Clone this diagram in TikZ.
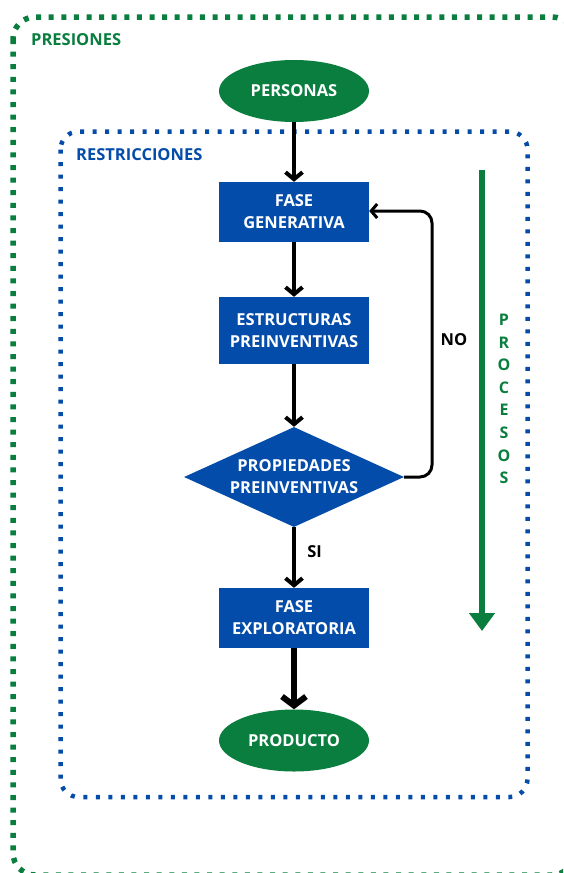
\documentclass[tikz,border=0pt]{standalone}
\usepackage{fontspec}
\setmainfont{Open Sans}
\usetikzlibrary{shapes.geometric,arrows.meta}
\definecolor{pgreen}{RGB}{9,126,63}
\definecolor{pblue}{RGB}{4,76,170}
\tikzset{
  txt/.style={font=\fontsize{16.5}{22}\selectfont\bfseries},
  boxnode/.style={txt,draw=none,fill=pblue,text=white,minimum width=150pt,align=center,inner sep=0pt},
  ovalnode/.style={txt,ellipse,fill=pgreen,text=white,minimum width=150pt,minimum height=62pt,inner sep=0pt},
  decnode/.style={txt,diamond,fill=pblue,text=white,aspect=2.2,minimum width=220pt,minimum height=100pt,inner sep=0pt,align=center},
  flow/.style={line width=4pt,-{Straight Barb[length=7pt,width=17pt]}},
  bigflow/.style={line width=6pt,-{Straight Barb[length=9pt,width=24pt]}},
  backflow/.style={line width=3pt,rounded corners=12pt,-{Straight Barb[length=6pt,width=14pt]}},
  outerframe/.style={draw=pgreen,line width=5.5pt,dash pattern=on 5pt off 7.6pt,rounded corners=22pt},
  innerframe/.style={draw=pblue,line width=4.5pt,dash pattern=on 4pt off 8.5pt,rounded corners=18pt},
}
\begin{document}
\begin{tikzpicture}[x=1pt,y=-1pt]
\useasboundingbox (0,0) rectangle (563,873);
\clip (0,0) rectangle (563,873);
\fill[white] (0,0) rectangle (563,873);
% frames
\draw[outerframe] (13,17) rectangle (574,875);
\draw[innerframe] (60.5,131.5) rectangle (527.5,797);
\node[txt,text=pgreen,anchor=west,inner sep=0pt] (pres) at (31,40) {PRESIONES};
\node[txt,text=pblue,anchor=west,inner sep=0pt] (restr) at (76,155) {RESTRICCIONES};
% nodes
\node[ovalnode] (pers) at (294,91) {PERSONAS};
\node[boxnode,minimum height=60pt] (gen) at (294,212) {FASE\\GENERATIVA};
\node[boxnode,minimum height=67pt] (est) at (294,330.5) {ESTRUCTURAS\\PREINVENTIVAS};
\node[decnode] (dia) at (294,477) {PROPIEDADES\\PREINVENTIVAS};
\node[boxnode,minimum height=60pt] (exp) at (294,618) {FASE\\EXPLORATORIA};
\node[ovalnode] (prod) at (294,740.5) {PRODUCTO};
% connectors
\draw[flow] (pers) -- (gen);
\draw[flow] (gen) -- (est);
\draw[flow] (est) -- (dia);
\draw[flow] (dia) -- node[txt,right=8pt,pos=0.4] (si) {SI} (exp);
\draw[bigflow] (exp) -- (prod);
\coordinate (loopc) at (432,211);
\draw[backflow] (dia.east) -| (loopc) -- (gen.east |- loopc);
\node[txt] (no) at (454,340) {NO};
% procesos
\coordinate (pa) at (482,170);
\coordinate (pb) at (482,631);
\draw[draw=pgreen,line width=6pt,-{Triangle[length=18pt,width=25pt]},color=pgreen] (pa) -- (pb);
\node[font=\fontsize{16}{22.6}\selectfont\bfseries,text=pgreen,align=center,inner sep=0pt] (proc) at (504,399) {P\\R\\O\\C\\E\\S\\O\\S};
\end{tikzpicture}
\end{document}
